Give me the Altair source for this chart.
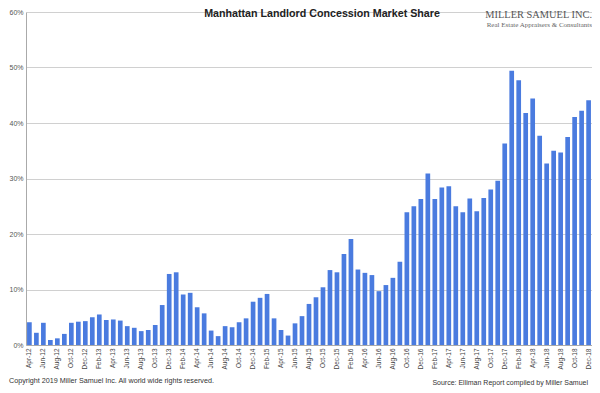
import altair as alt
import pandas as pd

# Month categories Apr-12 .. Dec-18
months = list(pd.date_range("2012-04-01", "2018-12-01", freq="MS").strftime("%b-%y"))

# Concession market share (%)
share = [4.1, 2.2, 4.0, 0.9, 1.2, 2.0, 4.0, 4.2, 4.3, 5.0, 5.5, 4.5,
         4.6, 4.4, 3.4, 3.1, 2.5, 2.7, 3.6, 7.2, 12.8, 13.1, 9.1, 9.4,
         6.8, 5.7, 2.6, 1.6, 3.4, 3.2, 4.1, 4.8, 7.8, 8.5, 9.2, 4.8,
         2.7, 1.7, 3.9, 5.2, 7.4, 8.6, 10.4, 13.5, 13.1, 16.4, 19.1, 13.6,
         13.0, 12.6, 9.7, 10.8, 12.1, 15.0, 23.9, 25.0, 26.3, 30.9, 26.3, 28.4,
         28.6, 25.0, 23.9, 26.4, 24.1, 26.5, 28.0, 29.6, 36.3, 49.4, 47.7, 41.8,
         44.4, 37.7, 32.7, 35.0, 34.7, 37.5, 41.1, 42.2, 44.1]

y_ticks = [0.0, 0.1, 0.2, 0.3, 0.4, 0.5, 0.6]
x_label_months = months[::2]

title_text = "Manhattan Landlord Concession Market Share"
logo_line1 = "MILLER SAMUEL INC."
logo_line2 = "Real Estate Appraisers & Consultants"
footer_left = "Copyright 2019 Miller Samuel Inc.  All world wide rights reserved."
footer_right = "Source: Elliman Report compiled by Miller Samuel"

df = pd.DataFrame({"month": months, "share": [v / 100 for v in share]})

W, H = 566, 333
FONT = "Liberation Sans"

bars = alt.Chart(df).mark_bar(color="#4a7bdf").encode(
    x=alt.X("month:N", sort=months,
            scale=alt.Scale(paddingInner=0.33, paddingOuter=0.15),
            axis=alt.Axis(values=x_label_months, labelAngle=270, ticks=False, title=None,
                          labelFontSize=6.5, labelColor="#444", labelFont=FONT,
                          domainColor="#aaaaaa", labelPadding=3, grid=False,
                          labelOverlap=False)),
    y=alt.Y("share:Q", scale=alt.Scale(domain=[0, 0.6], nice=False),
            axis=alt.Axis(values=y_ticks, format=".0%", title=None, ticks=False,
                          gridColor="#d0d0d0", domainColor="#aaaaaa",
                          labelFontSize=7, labelColor="#555", labelFont=FONT,
                          labelPadding=3)),
)

def text_layer(txt, x, y, align, size, font=FONT, weight="normal", color="#222"):
    return alt.Chart(pd.DataFrame({"t": [txt]})).mark_text(
        align=align, baseline="alphabetic", font=font, fontSize=size,
        fontWeight=weight, color=color
    ).encode(x=alt.value(x), y=alt.value(y), text="t:N")

title = text_layer(title_text, 296, 5.3, "center", 10.7, weight="bold", color="#222")
logo1 = text_layer(logo_line1, 566, 6.3, "right", 10.4, font="Liberation Serif", color="#555")
logo2 = text_layer(logo_line2, 566, 14.5, "right", 7, font="Liberation Serif", color="#666")
foot1 = text_layer(footer_left, -17, 371, "left", 7.2, color="#333")
foot2 = text_layer(footer_right, 562, 373, "right", 7, color="#333")

chart = alt.layer(bars, title, logo1, logo2, foot1, foot2).properties(
    width=W, height=H,
    autosize=alt.AutoSizeParams(type="none"),
    padding={"left": 18, "top": 4, "right": 0, "bottom": 45},
    background="white",
).configure_view(stroke=None)

chart.save("out.html", embed_options={"renderer": "svg", "actions": False})
